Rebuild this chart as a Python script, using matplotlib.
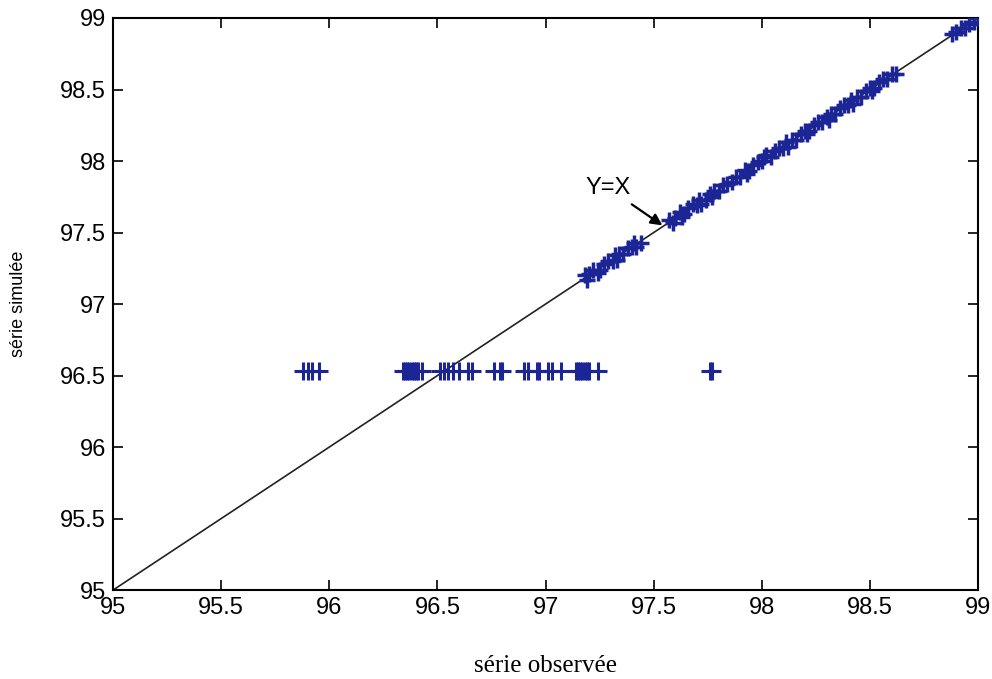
import matplotlib
matplotlib.use("Agg")
import matplotlib.pyplot as plt

# ---- data ----
obs_row = [95.88, 95.90, 95.92, 95.95,
           96.34, 96.35, 96.36, 96.37, 96.38, 96.39, 96.40, 96.41, 96.43,
           96.51, 96.53, 96.55, 96.57, 96.60, 96.64, 96.66, 96.76,
           96.79, 96.80, 96.90, 96.92, 96.96, 96.97, 97.01, 97.03, 97.07,
           97.14, 97.15, 97.16, 97.17, 97.18, 97.19, 97.20, 97.24,
           97.76, 97.77]
sim_row = [96.53, 96.53, 96.53, 96.53,
           96.53, 96.53, 96.53, 96.53, 96.53, 96.53, 96.53, 96.53, 96.53,
           96.53, 96.53, 96.53, 96.53, 96.53, 96.53, 96.53, 96.53,
           96.53, 96.53, 96.53, 96.53, 96.53, 96.53, 96.53, 96.53, 96.53,
           96.53, 96.53, 96.53, 96.53, 96.53, 96.53, 96.53, 96.53,
           96.53, 96.53]

obs_diag = [97.18, 97.19, 97.20, 97.22, 97.24, 97.25, 97.27, 97.29, 97.31, 97.32,
            97.33, 97.34, 97.36, 97.38, 97.40, 97.41, 97.42, 97.44,
            97.57, 97.59, 97.60, 97.62, 97.63, 97.64, 97.66, 97.68, 97.70, 97.71,
            97.72, 97.74, 97.76, 97.77, 97.78, 97.80, 97.82, 97.84, 97.86, 97.88,
            97.90,
            97.92, 97.93, 97.94, 97.96, 97.98, 98.00, 98.01, 98.02, 98.04, 98.06,
            98.08, 98.10, 98.11, 98.12, 98.14, 98.16, 98.18, 98.20, 98.21, 98.22,
            98.24, 98.26, 98.28, 98.30, 98.31, 98.32, 98.34, 98.36, 98.38, 98.40,
            98.41, 98.42, 98.44, 98.46, 98.48, 98.50, 98.51, 98.52, 98.54, 98.56,
            98.58, 98.60, 98.62,
            98.88, 98.90, 98.92, 98.94, 98.96, 98.98, 99.00]
sim_diag = [97.20, 97.17, 97.21, 97.24, 97.22, 97.24, 97.28, 97.30, 97.30, 97.34,
            97.31, 97.35, 97.35, 97.39, 97.40, 97.43, 97.40, 97.43,
            97.59, 97.57, 97.60, 97.64, 97.61, 97.63, 97.67, 97.70, 97.69, 97.73,
            97.70, 97.73, 97.77, 97.75, 97.79, 97.79, 97.83, 97.84, 97.85, 97.89,
            97.89,
            97.94, 97.91, 97.93, 97.97, 97.99, 98.00, 98.03, 98.04, 98.03, 98.07,
            98.09, 98.09, 98.13, 98.10, 98.15, 98.15, 98.19, 98.21, 98.19, 98.21,
            98.25, 98.27, 98.27, 98.31, 98.29, 98.33, 98.33, 98.37, 98.39, 98.39,
            98.43, 98.40, 98.45, 98.45, 98.49, 98.51, 98.49, 98.51, 98.55, 98.57,
            98.57, 98.61, 98.61,
            98.89, 98.90, 98.93, 98.93, 98.96, 98.97, 99.00]

line_ends = [95, 99]
ticks = [95, 95.5, 96, 96.5, 97, 97.5, 98, 98.5, 99]
tick_labels = ["95", "95.5", "96", "96.5", "97", "97.5", "98", "98.5", "99"]

blue = "#1b2596"

fig = plt.figure(figsize=(9.92, 6.79), dpi=100)
ax = fig.add_axes([0.114, 0.131, 0.872, 0.8425])

ax.plot(line_ends, line_ends, color="#222222", lw=1.2, zorder=1)
ax.plot(obs_row, sim_row, linestyle="none", marker="+", color=blue,
        markersize=13, mew=2.2, zorder=3)
ax.plot(obs_diag, sim_diag, linestyle="none", marker="+", color=blue,
        markersize=12, mew=2.5, zorder=3)

ax.annotate("Y=X", xy=(97.54, 97.55), xytext=(97.29, 97.81),
            fontsize=17, family="Liberation Sans", ha="center", va="center",
            arrowprops=dict(arrowstyle="-|>", color="black", lw=1.6,
                            mutation_scale=17, shrinkA=3, shrinkB=0))

ax.set_xlim(95, 99)
ax.set_ylim(95, 99)
ax.set_xticks(ticks)
ax.set_yticks(ticks)
ax.set_xticklabels(tick_labels)
ax.set_yticklabels(tick_labels)
ax.tick_params(direction="in", length=7, width=1.2, top=True, right=True,
               labelsize=17, pad=5)
for lab in ax.get_xticklabels() + ax.get_yticklabels():
    lab.set_family("Liberation Sans")
for sp in ax.spines.values():
    sp.set_linewidth(1.5)
    sp.set_color("black")

ax.set_xlabel("série observée", fontsize=18, family="Liberation Serif", labelpad=26)
ax.set_ylabel("série simulée", fontsize=13, family="Liberation Sans", labelpad=24)

fig.savefig("out.png", dpi=100)
